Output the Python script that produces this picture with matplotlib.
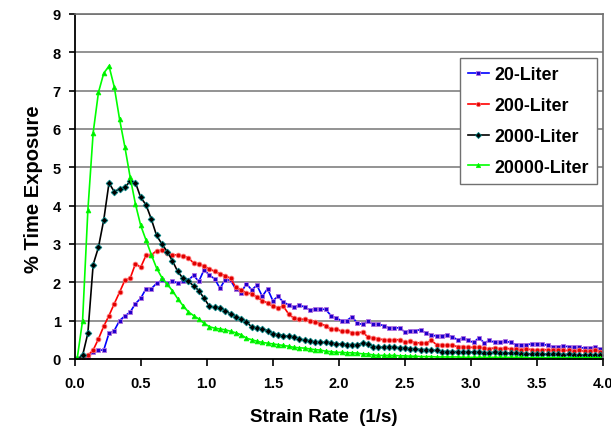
import numpy as np
import matplotlib
matplotlib.use("Agg")
import matplotlib.pyplot as plt

plt.rcParams['font.family'] = ['Liberation Sans', 'DejaVu Sans']
plt.rcParams['font.weight'] = 'bold'

# strain-rate bin centres (1/s)
strain_rate = np.round(np.arange(0.02, 4.0, 0.04), 2)

liter_20 = [0.0, 0.0, 0.04, 0.19, 0.23, 0.23, 0.67, 0.74, 1.0, 1.12,
            1.22, 1.44, 1.58, 1.83, 1.83, 1.97, 2.05, 1.99, 2.02, 1.98,
            2.02, 2.05, 2.18, 2.02, 2.33, 2.18, 2.09, 1.84, 2.07, 2.05,
            1.82, 1.73, 1.96, 1.8, 1.92, 1.63, 1.83, 1.52, 1.63, 1.48,
            1.41, 1.35, 1.41, 1.35, 1.28, 1.3, 1.3, 1.29, 1.13, 1.06,
            1.0, 1.0, 1.1, 0.93, 0.9, 0.98, 0.9, 0.9, 0.87, 0.81,
            0.81, 0.81, 0.7, 0.74, 0.74, 0.76, 0.67, 0.63, 0.59, 0.61,
            0.63, 0.57, 0.5, 0.55, 0.48, 0.43, 0.55, 0.42, 0.48, 0.43,
            0.43, 0.46, 0.43, 0.37, 0.37, 0.37, 0.39, 0.39, 0.39, 0.35,
            0.32, 0.32, 0.33, 0.32, 0.3, 0.3, 0.28, 0.28, 0.3, 0.26]

liter_200 = [0.0, 0.02, 0.09, 0.23, 0.52, 0.85, 1.13, 1.44, 1.74, 2.05,
             2.1, 2.48, 2.39, 2.7, 2.71, 2.82, 2.83, 2.75, 2.72, 2.71,
             2.68, 2.64, 2.5, 2.48, 2.41, 2.35, 2.28, 2.22, 2.17, 2.1,
             1.87, 1.8, 1.72, 1.7, 1.61, 1.52, 1.46, 1.37, 1.33, 1.37,
             1.17, 1.06, 1.04, 1.03, 1.0, 0.97, 0.91, 0.87, 0.77, 0.78,
             0.72, 0.72, 0.68, 0.68, 0.7, 0.57, 0.55, 0.52, 0.5, 0.48,
             0.5, 0.5, 0.43, 0.46, 0.42, 0.42, 0.41, 0.48, 0.37, 0.37,
             0.35, 0.35, 0.32, 0.32, 0.3, 0.3, 0.3, 0.28, 0.26, 0.29,
             0.26, 0.28, 0.26, 0.26, 0.24, 0.26, 0.24, 0.22, 0.24, 0.24,
             0.22, 0.23, 0.22, 0.22, 0.2, 0.22, 0.2, 0.2, 0.22, 0.19]

liter_2000 = [0.0, 0.09, 0.67, 2.46, 2.91, 3.62, 4.59, 4.36, 4.44, 4.48,
              4.63, 4.6, 4.21, 4.02, 3.65, 3.22, 3.0, 2.8, 2.56, 2.28,
              2.1, 2.02, 1.91, 1.78, 1.58, 1.37, 1.35, 1.33, 1.26, 1.17,
              1.1, 1.04, 0.97, 0.83, 0.8, 0.78, 0.74, 0.65, 0.63, 0.61,
              0.59, 0.57, 0.52, 0.49, 0.46, 0.43, 0.43, 0.43, 0.42, 0.39,
              0.39, 0.37, 0.37, 0.37, 0.41, 0.39, 0.32, 0.3, 0.3, 0.3,
              0.3, 0.29, 0.29, 0.26, 0.26, 0.24, 0.24, 0.22, 0.22, 0.19,
              0.19, 0.19, 0.19, 0.17, 0.19, 0.17, 0.17, 0.16, 0.16, 0.17,
              0.16, 0.16, 0.15, 0.15, 0.14, 0.14, 0.13, 0.14, 0.13, 0.12,
              0.12, 0.12, 0.11, 0.12, 0.11, 0.1, 0.1, 0.1, 0.09, 0.09]

liter_20000 = [0.03, 1.0, 3.88, 5.9, 6.95, 7.45, 7.64, 7.09, 6.25, 5.53,
               4.74, 4.04, 3.48, 3.1, 2.72, 2.37, 2.12, 1.95, 1.78, 1.57,
               1.39, 1.23, 1.13, 1.04, 0.93, 0.84, 0.8, 0.78, 0.76, 0.72,
               0.68, 0.63, 0.54, 0.5, 0.46, 0.43, 0.41, 0.39, 0.37, 0.35,
               0.33, 0.3, 0.29, 0.28, 0.26, 0.24, 0.23, 0.2, 0.19, 0.17,
               0.17, 0.16, 0.16, 0.15, 0.13, 0.13, 0.1, 0.09, 0.09, 0.09,
               0.09, 0.08, 0.08, 0.07, 0.07, 0.06, 0.06, 0.06, 0.05, 0.05,
               0.05, 0.05, 0.05, 0.04, 0.04, 0.04, 0.04, 0.04, 0.04, 0.04,
               0.04, 0.04, 0.04, 0.04, 0.04, 0.03, 0.03, 0.03, 0.03, 0.03,
               0.03, 0.03, 0.03, 0.03, 0.03, 0.03, 0.03, 0.03, 0.03, 0.03]

series_labels = ['20-Liter', '200-Liter', '2000-Liter', '20000-Liter']
x_ticks = [0.0, 0.5, 1.0, 1.5, 2.0, 2.5, 3.0, 3.5, 4.0]
y_ticks = list(range(0, 10))

fig = plt.figure(figsize=(6.11, 4.31), dpi=100)
ax = fig.add_axes([0.1222, 0.165, 0.8648, 0.8005])

styles = [
    dict(color='#0000ff', marker='s', markerfacecolor='#2200cc', markeredgecolor='#b070e0'),
    dict(color='#ff0000', marker='o', markerfacecolor='#e00000', markeredgecolor='#ff7070'),
    dict(color='#000000', marker='D', markerfacecolor='#000000', markeredgecolor='#008080'),
    dict(color='#00ff00', marker='^', markerfacecolor='#00e000', markeredgecolor='#00ff00'),
]
for ys, lab, st in zip([liter_20, liter_200, liter_2000, liter_20000], series_labels, styles):
    ax.plot(strain_rate, ys, label=lab, linewidth=1.2, markersize=3.4,
            markeredgewidth=0.6, **st)

ax.set_xlim(0, 4.0)
ax.set_ylim(0, 9)
ax.set_xticks(x_ticks)
ax.set_xticklabels([f'{v:.1f}' for v in x_ticks])
ax.set_yticks(y_ticks)
ax.grid(axis='y', color='#808080', linewidth=1.2)
ax.set_axisbelow(True)

for s in ['left', 'bottom']:
    ax.spines[s].set_color('black')
    ax.spines[s].set_linewidth(1.3)
for s in ['right', 'top']:
    ax.spines[s].set_color('#707070')
    ax.spines[s].set_linewidth(1.2)

ax.tick_params(axis='x', direction='out', length=5, width=1.2, pad=7, labelsize=10.5)
ax.tick_params(axis='y', direction='out', length=4, width=1.2, pad=6, labelsize=10.5)
for t in ax.get_xticklabels() + ax.get_yticklabels():
    t.set_fontweight('bold')

ax.set_xlabel('Strain Rate  (1/s)', fontsize=13.5, fontweight='bold')
ax.set_ylabel('% Time Exposure', fontsize=14.5, fontweight='bold')
ax.xaxis.set_label_coords(0.472, -0.141)
ax.yaxis.set_label_coords(-0.06, 0.496)

leg = ax.legend(loc='upper right', bbox_to_anchor=(0.988, 0.872), borderaxespad=0,
                prop=dict(size=12.8, weight='bold'), fancybox=False, framealpha=1,
                edgecolor='#707070', handlelength=1.2, handletextpad=0.3,
                labelspacing=0.78, borderpad=0.45, markerscale=0.9)
leg.get_frame().set_linewidth(1.0)

fig.savefig('out.png', dpi=100)
